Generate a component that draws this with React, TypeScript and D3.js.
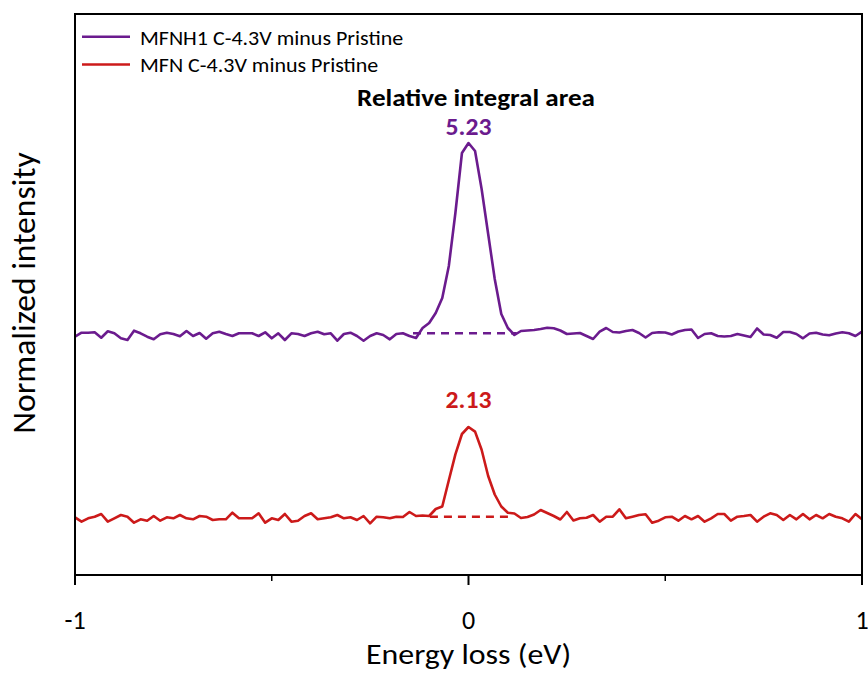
import React from "react";
import * as d3 from "d3";

// Energy grid (eV)
const energy: number[] = d3.range(121).map((i) => -1 + i / 60);

// MFNH1 C-4.3V minus Pristine (offset trace, arbitrary units)
const mfnh1: number[] = [
  23.83, 24.23, 24.23, 24.27, 23.73, 24.37, 24.17, 23.67, 23.5, 24.43,
  24.17, 23.83, 23.57, 24.07, 24.23, 24.1, 23.87, 24.4, 23.9, 24.2,
  23.63, 24.17, 24.33, 24.1, 23.9, 24.17, 24.17, 24.17, 23.9, 24.27,
  23.67, 24.17, 23.5, 24.17, 24.1, 23.9, 24.17, 24.33, 24.07, 24.17,
  23.43, 24.1, 24.23, 23.9, 23.43, 23.9, 24.17, 24.0, 23.57, 24.1,
  24.17, 23.9, 23.7, 24.7, 25.2, 26.2, 27.7, 30.9, 36.2, 42.2,
  43.2, 42.4, 38.6, 34.1, 29.6, 26.1, 24.7, 24.0, 24.4, 24.45,
  24.5, 24.6, 24.73, 24.67, 24.45, 24.1, 24.15, 24.2, 23.9, 23.6,
  24.33, 24.7, 24.3, 24.25, 24.4, 24.5, 24.2, 23.75, 24.2, 24.27,
  24.25, 24.05, 24.35, 24.5, 24.55, 23.7, 24.1, 24.17, 23.9, 23.85,
  23.9, 24.1, 23.95, 23.8, 24.65, 24.05, 24.0, 23.73, 24.3, 24.3,
  24.1, 23.67, 24.15, 24.23, 24.05, 23.97, 24.15, 24.27, 24.17, 23.9, 24.33,
];

// MFN C-4.3V minus Pristine
const mfn: number[] = [
  5.77, 5.33, 5.67, 5.83, 6.1, 5.33, 5.67, 6.0, 5.83, 5.23,
  5.57, 5.43, 5.9, 5.43, 5.77, 5.67, 6.0, 5.67, 5.57, 5.9,
  5.83, 5.5, 5.57, 5.57, 6.23, 5.67, 5.67, 5.67, 6.17, 5.23,
  5.67, 5.5, 6.1, 5.33, 5.43, 5.9, 6.17, 5.57, 5.67, 5.77,
  6.0, 5.67, 5.77, 5.5, 5.9, 5.17, 5.83, 5.77, 5.67, 5.83,
  5.8, 6.3, 5.9, 5.95, 5.9, 6.6, 6.85, 9.47, 12.06, 14.1,
  14.8, 14.34, 12.53, 9.9, 8.05, 6.85, 6.23, 6.15, 5.7, 5.8,
  6.05, 6.5, 6.2, 5.9, 5.55, 6.3, 5.45, 5.67, 5.73, 6.0,
  5.33, 5.83, 5.83, 6.57, 5.67, 5.83, 6.0, 6.07, 5.23, 5.43,
  5.77, 5.83, 5.43, 5.9, 5.57, 5.9, 5.33, 5.67, 6.1, 6.1,
  5.43, 5.83, 5.9, 6.0, 5.33, 5.83, 6.17, 6.0, 5.5, 6.0,
  5.57, 6.1, 5.57, 6.0, 5.67, 6.1, 5.83, 5.67, 5.33, 6.1, 5.57,
];

const seriesNames = ["MFNH1 C-4.3V minus Pristine", "MFN C-4.3V minus Pristine"];
const seriesColors = ["#6b1b8e", "#cc1a1a"];
const peakAreas = ["5.23", "2.13"];
const peakAreaTitle = "Relative integral area";
// integration baselines: [start eV, end eV, level]
const baselineStart = [-0.141, -0.098];
const baselineEnd = [0.1225, 0.105];
const baselineLevel = [24.17, 5.83];
const peakLabelLevel = [44.0, 16.7];

const xTicks = [-1, 0, 1];
const xMinorTicks = [-0.5, 0.5];
const xLabel = "Energy loss (eV)";
const yLabel = "Normalized intensity";

const FONT = "Carlito, 'Open Sans', sans-serif";

export default function App() {
  const W = 868;
  const H = 673;
  const left = 75, right = 862, top = 14, bottom = 575;
  const x = d3.scaleLinear().domain([-1, 1]).range([left, right]);
  const y = d3.scaleLinear().domain([0, 56.1]).range([bottom, top]);
  const line = d3
    .line<[number, number]>()
    .x((d) => x(d[0]))
    .y((d) => y(d[1]))
    .curve(d3.curveLinear);
  const series = [mfnh1, mfn];

  return (
    <svg
      width={W}
      height={H}
      style={{ position: "absolute", left: 0, top: 0, background: "#fff" }}
      fontFamily={FONT}
    >
      <rect x={0} y={0} width={W} height={H} fill="#fff" />
      {series.map((vals, k) => (
        <g key={k}>
          <line
            x1={x(baselineStart[k])}
            x2={x(baselineEnd[k])}
            y1={y(baselineLevel[k])}
            y2={y(baselineLevel[k])}
            stroke={seriesColors[k]}
            strokeWidth={2.5}
            strokeDasharray="8,6"
          />
          <path
            d={line(energy.map((e, i) => [e, vals[i]] as [number, number])) || ""}
            fill="none"
            stroke={seriesColors[k]}
            strokeWidth={2.6}
            strokeLinejoin="round"
          />
          <text
            transform={`translate(${x(0)}, ${y(peakLabelLevel[k])}) scale(1.07, 1)`}
            textAnchor="middle"
            fontWeight="bold"
            fontSize={24}
            fill={seriesColors[k]}
          >
            {peakAreas[k]}
          </text>
        </g>
      ))}
      <text
        transform={`translate(476, 105.5) scale(1.13, 1)`}
        textAnchor="middle"
        fontWeight="bold"
        fontSize={24}
        fill="#000"
      >
        {peakAreaTitle}
      </text>

      {/* frame */}
      <rect x={left} y={top} width={right - left} height={bottom - top} fill="none" stroke="#000" strokeWidth={2} />
      {xTicks.map((t) => (
        <g key={"t" + t}>
          <line x1={x(t)} x2={x(t)} y1={bottom} y2={bottom + 10} stroke="#000" strokeWidth={2} />
          <text x={x(t)} y={bottom + 54} textAnchor="middle" fontSize={26} fill="#000">
            {t}
          </text>
        </g>
      ))}
      {xMinorTicks.map((t) => (
        <line key={"m" + t} x1={x(t)} x2={x(t)} y1={bottom} y2={bottom + 6} stroke="#000" strokeWidth={1.5} />
      ))}
      <text
        transform={`translate(${(left + right) / 2}, 664) scale(1.1, 1)`}
        textAnchor="middle"
        fontSize={29}
        fill="#000"
      >
        {xLabel}
      </text>
      <text
        transform={`translate(35, 293) rotate(-90) scale(1.05, 1)`}
        textAnchor="middle"
        fontSize={32}
        fill="#000"
      >
        {yLabel}
      </text>

      {/* legend */}
      {seriesNames.map((n, k) => (
        <g key={n} transform={`translate(0, ${36.7 + k * 27.8})`}>
          <line x1={82} x2={130} y1={0} y2={0} stroke={seriesColors[k]} strokeWidth={2.5} />
          <text transform="translate(140, 7.8) scale(1.1, 1)" fontSize={20} fill="#000">
            {n}
          </text>
        </g>
      ))}
    </svg>
  );
}
